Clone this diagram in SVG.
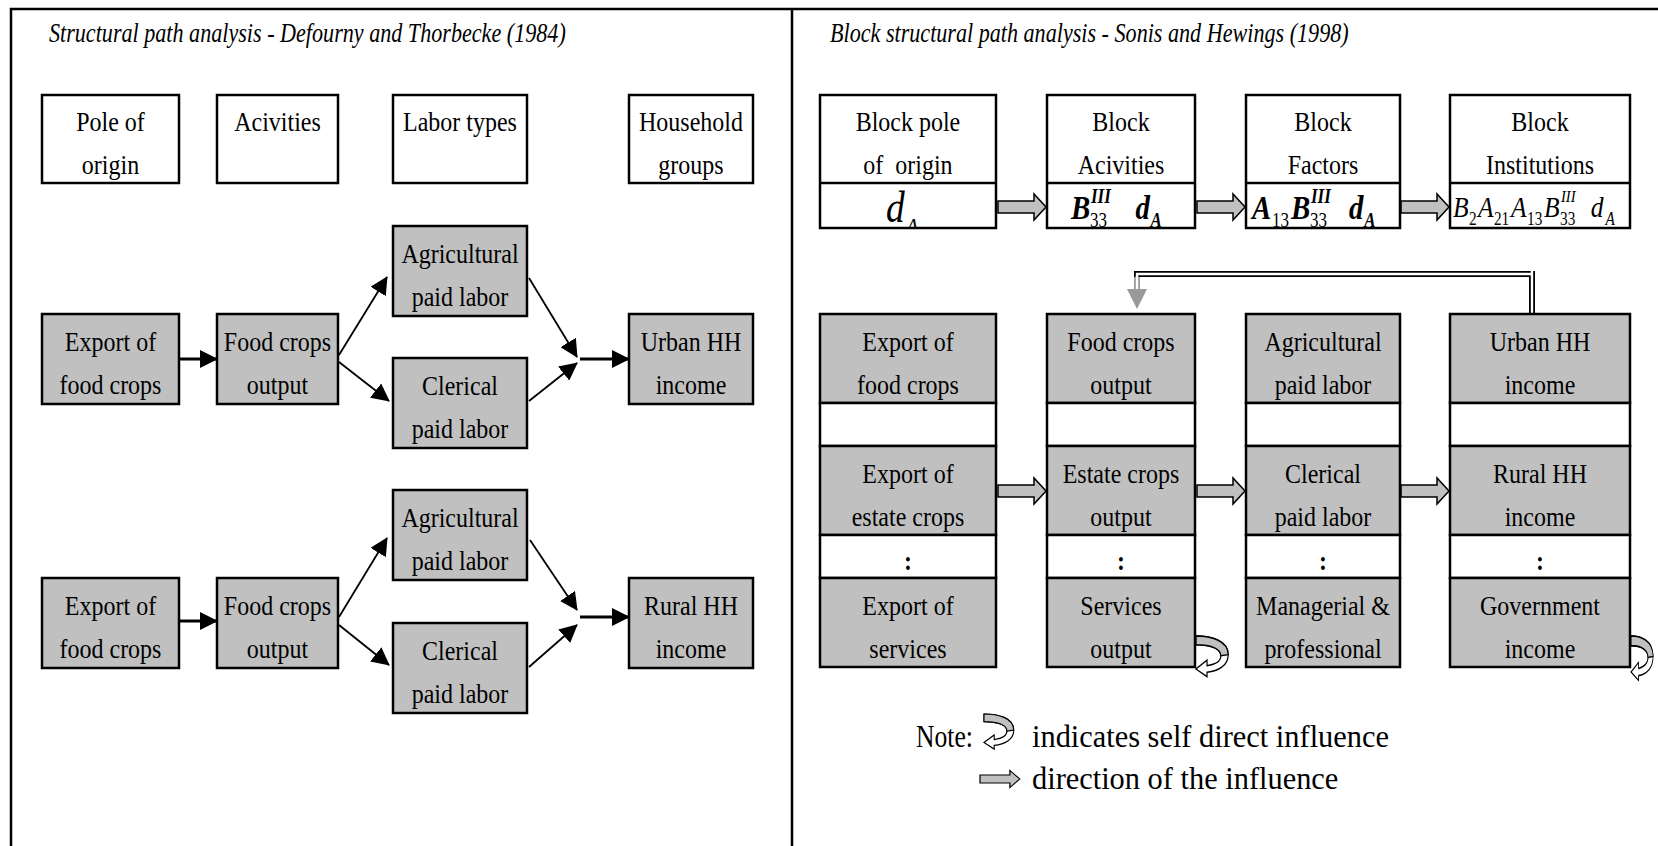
<svg xmlns="http://www.w3.org/2000/svg" width="1658" height="846" viewBox="0 0 1658 846">
<style>
.bg{fill:#fff}
.frame{stroke:#000;stroke-width:2.5;fill:none}
.box{fill:#c0c0c0;stroke:#000;stroke-width:2.5}
.wbox{fill:#fff;stroke:#000;stroke-width:2.5}
.sep{stroke:#000;stroke-width:2.5}
.t{font-family:"Liberation Serif","Times New Roman",serif;font-size:28px;text-anchor:middle;fill:#000}
.title{font-family:"Liberation Serif","Times New Roman",serif;font-size:27px;font-style:italic;fill:#000}
.note{font-family:"Liberation Serif","Times New Roman",serif;font-size:32px;fill:#000}
.colon{font-family:"Liberation Serif","Times New Roman",serif;font-size:28px;font-weight:bold;text-anchor:middle}
.m{font-family:"Liberation Serif","Times New Roman",serif;font-style:italic;fill:#000}
.bd{font-weight:bold}
.up{font-style:normal;font-weight:normal}
.conn{stroke:#000;stroke-width:1.8;fill:none;marker-end:url(#ah)}
.conn2{stroke:#000;stroke-width:3;fill:none;marker-end:url(#ah)}
.barrow{fill:#c0c0c0;stroke:#000;stroke-width:1.5}
.lg{fill:#c0c0c0;stroke:#000;stroke-width:1.3}
.lw{fill:#fff;stroke:#000;stroke-width:1.3}
</style>
<defs>
<marker id="ah" viewBox="0 0 18 18" refX="17" refY="9" markerWidth="18" markerHeight="18" markerUnits="userSpaceOnUse" orient="auto">
<path d="M0,0 L18,9 L0,18 Z" fill="#000"/>
</marker>
<path id="barrow" d="M0,-6 L36,-6 L36,-13 L48,0 L36,13 L36,6 L0,6 Z"/>
<g id="loop">
<path class="lw" d="M0,0 C16,0 35,4 35,17 C35,27 24,32 12,33 L12,37 L0,30 L12,22 L12,27 C20,26 27,23 27,18 C27,12 18,8 0,8 Z"/>
<path class="lg" d="M0,0 C16,0 35,4 35,17 L27,18 C27,12 18,8 0,8 Z"/>
</g>
<clipPath id="c1"><rect x="820" y="183" width="176" height="45"/></clipPath>
</defs>
<rect class="bg" x="0" y="0" width="1658" height="846"/>
<g id="frame">
<path class="frame" d="M11,846 L11,9 L1658,9 M792,9 L792,846"/>
</g>
<text class="title" x="49" y="42" transform="matrix(0.82 0 0 1 8.82 0)">Structural path analysis - Defourny and Thorbecke (1984)</text>
<text class="title" x="830" y="42" transform="matrix(0.82 0 0 1 149.4 0)">Block structural path analysis - Sonis and Hewings (1998)</text>

<!-- LEFT PANEL headers -->
<g id="h-pole"><rect class="wbox" x="42" y="95" width="137" height="88"/><g transform="matrix(0.857 0 0 1 15.8 0)"><text class="t" x="110.5" y="131">Pole of</text><text class="t" x="110.5" y="174">origin</text></g></g>
<g id="h-act"><rect class="wbox" x="217" y="95" width="121" height="88"/><g transform="matrix(0.857 0 0 1 39.68 0)"><text class="t" x="277.5" y="131">Acivities</text></g></g>
<g id="h-labor"><rect class="wbox" x="393" y="95" width="134" height="88"/><g transform="matrix(0.857 0 0 1 65.78 0)"><text class="t" x="460" y="131">Labor types</text></g></g>
<g id="h-hh"><rect class="wbox" x="629" y="95" width="124" height="88"/><g transform="matrix(0.857 0 0 1 98.81 0)"><text class="t" x="691" y="131">Household</text><text class="t" x="691" y="174">groups</text></g></g>

<!-- group 1 -->
<g id="l1-export"><rect class="box" x="42" y="314" width="137" height="90"/><g transform="matrix(0.857 0 0 1 15.8 0)"><text class="t" x="110.5" y="351">Export of</text><text class="t" x="110.5" y="394">food crops</text></g></g>
<g id="l1-food"><rect class="box" x="217" y="314" width="121" height="90"/><g transform="matrix(0.857 0 0 1 39.68 0)"><text class="t" x="277.5" y="351">Food crops</text><text class="t" x="277.5" y="394">output</text></g></g>
<g id="l1-agri"><rect class="box" x="393" y="226" width="134" height="90"/><g transform="matrix(0.857 0 0 1 65.78 0)"><text class="t" x="460" y="263">Agricultural</text><text class="t" x="460" y="306">paid labor</text></g></g>
<g id="l1-cler"><rect class="box" x="393" y="358" width="134" height="90"/><g transform="matrix(0.857 0 0 1 65.78 0)"><text class="t" x="460" y="395">Clerical</text><text class="t" x="460" y="438">paid labor</text></g></g>
<g id="l1-urban"><rect class="box" x="629" y="314" width="124" height="90"/><g transform="matrix(0.857 0 0 1 98.81 0)"><text class="t" x="691" y="351">Urban HH</text><text class="t" x="691" y="394">income</text></g></g>

<!-- group 2 -->
<g id="l2-export"><rect class="box" x="42" y="578" width="137" height="90"/><g transform="matrix(0.857 0 0 1 15.8 0)"><text class="t" x="110.5" y="615">Export of</text><text class="t" x="110.5" y="658">food crops</text></g></g>
<g id="l2-food"><rect class="box" x="217" y="578" width="121" height="90"/><g transform="matrix(0.857 0 0 1 39.68 0)"><text class="t" x="277.5" y="615">Food crops</text><text class="t" x="277.5" y="658">output</text></g></g>
<g id="l2-agri"><rect class="box" x="393" y="490" width="134" height="90"/><g transform="matrix(0.857 0 0 1 65.78 0)"><text class="t" x="460" y="527">Agricultural</text><text class="t" x="460" y="570">paid labor</text></g></g>
<g id="l2-cler"><rect class="box" x="393" y="623" width="134" height="90"/><g transform="matrix(0.857 0 0 1 65.78 0)"><text class="t" x="460" y="660">Clerical</text><text class="t" x="460" y="703">paid labor</text></g></g>
<g id="l2-rural"><rect class="box" x="629" y="578" width="124" height="90"/><g transform="matrix(0.857 0 0 1 98.81 0)"><text class="t" x="691" y="615">Rural HH</text><text class="t" x="691" y="658">income</text></g></g>

<g id="connectors">
<path class="conn2" d="M180,359 L217,359"/>
<path class="conn" d="M339,355 L387,277"/>
<path class="conn" d="M339,362 L389,401"/>
<path class="conn" d="M529,278 L577,357"/>
<path class="conn" d="M529,401 L577,363"/>
<path class="conn2" d="M580,359 L629,359"/>
<path class="conn2" d="M180,621 L217,621"/>
<path class="conn" d="M339,617 L387,538"/>
<path class="conn" d="M339,625 L389,665"/>
<path class="conn" d="M530,540 L577,610"/>
<path class="conn" d="M529,667 L577,625"/>
<path class="conn2" d="M580,617 L629,617"/>
<!-- right panel feedback double line -->
<path d="M1532,313 L1532,271 M1532,274 L1137,274 L1137,278" stroke="#000" stroke-width="6" fill="none"/>
<path d="M1532,313 L1532,271 M1532,274 L1137,274 L1137,278" stroke="#fff" stroke-width="2.4" fill="none"/>
<path d="M1137,277 L1137,290" stroke="#999" stroke-width="6" fill="none"/>
<path d="M1137,276 L1137,291" stroke="#fff" stroke-width="2.4" fill="none"/>
<path d="M1127,289 L1147,289 L1137,309 Z" fill="#999"/>
<!-- block arrows -->
<use href="#barrow" class="barrow" transform="translate(998,207)"/>
<use href="#barrow" class="barrow" transform="translate(1197,207)"/>
<use href="#barrow" class="barrow" transform="translate(1401,207)"/>
<use href="#barrow" class="barrow" transform="translate(998,491)"/>
<use href="#barrow" class="barrow" transform="translate(1197,491)"/>
<use href="#barrow" class="barrow" transform="translate(1401,491)"/>
<!-- self loops -->
<use href="#loop" transform="translate(1196,636) scale(0.92,1.1)"/>
<use href="#loop" transform="translate(1631,636) scale(0.63,1.2)"/>
</g>

<!-- RIGHT PANEL top blocks -->
<g id="b-pole"><rect class="wbox" x="820" y="95" width="176" height="133"/><line class="sep" x1="820" y1="183" x2="996" y2="183"/><g transform="matrix(0.857 0 0 1 129.84 0)"><text class="t" x="908" y="131">Block pole</text><text class="t" x="908" y="174" style="white-space:pre">of  origin</text></g>
<g clip-path="url(#c1)"><g transform="translate(886,0) scale(0.85,1)"><text class="m" font-size="44"><tspan x="0" y="222">d</tspan><tspan x="23.5" y="234" font-size="24">A</tspan></text></g></g></g>
<g id="b-act"><rect class="wbox" x="1047" y="95" width="148" height="133"/><line class="sep" x1="1047" y1="183" x2="1195" y2="183"/><g transform="matrix(0.857 0 0 1 160.3 0)"><text class="t" x="1121" y="131">Block</text><text class="t" x="1121" y="174">Acivities</text></g>
<g transform="translate(1071,0) scale(0.85,1)"><text class="m bd" font-size="34"><tspan x="0" y="219">B</tspan><tspan x="23.5" y="203" font-size="20">III</tspan><tspan x="22.4" y="227" font-size="20" class="up">33</tspan><tspan x="76" y="219">d</tspan><tspan x="93.5" y="227" font-size="20">A</tspan></text></g></g>
<g id="b-fac"><rect class="wbox" x="1246" y="95" width="154" height="133"/><line class="sep" x1="1246" y1="183" x2="1400" y2="183"/><g transform="matrix(0.857 0 0 1 189.19 0)"><text class="t" x="1323" y="131">Block</text><text class="t" x="1323" y="174">Factors</text></g>
<g transform="translate(1252,0) scale(0.85,1)"><text class="m bd" font-size="34"><tspan x="0" y="219">A</tspan><tspan x="23.5" y="227" font-size="20" class="up">13</tspan><tspan x="45.9" y="219">B</tspan><tspan x="69.4" y="203" font-size="20">III</tspan><tspan x="68.2" y="227" font-size="20" class="up">33</tspan><tspan x="114" y="219">d</tspan><tspan x="132" y="227" font-size="20">A</tspan></text></g></g>
<g id="b-inst"><rect class="wbox" x="1450" y="95" width="180" height="133"/><line class="sep" x1="1450" y1="183" x2="1630" y2="183"/><g transform="matrix(0.857 0 0 1 220.22 0)"><text class="t" x="1540" y="131">Block</text><text class="t" x="1540" y="174">Institutions</text></g>
<g transform="translate(1453,0) scale(0.85,1)"><text class="m" font-size="30"><tspan x="0" y="217">B</tspan><tspan x="18.8" y="225" font-size="18" class="up">2</tspan><tspan x="29.4" y="217">A</tspan><tspan x="48.2" y="225" font-size="18" class="up">21</tspan><tspan x="68.2" y="217">A</tspan><tspan x="87.1" y="225" font-size="18" class="up">13</tspan><tspan x="107" y="217">B</tspan><tspan x="127.1" y="202" font-size="17">III</tspan><tspan x="125.9" y="225" font-size="18" class="up">33</tspan><tspan x="162" y="217">d</tspan><tspan x="179.5" y="225" font-size="18">A</tspan></text></g></g>

<!-- RIGHT PANEL columns -->
<g id="col-exports">
<rect class="box" x="820" y="314" width="176" height="89"/><rect class="wbox" x="820" y="403" width="176" height="43"/><rect class="box" x="820" y="446" width="176" height="89"/><rect class="wbox" x="820" y="535" width="176" height="43"/><rect class="box" x="820" y="578" width="176" height="89"/>
<g transform="matrix(0.857 0 0 1 129.84 0)">
<text class="t" x="908" y="351">Export of</text><text class="t" x="908" y="394">food crops</text>
<text class="t" x="908" y="483">Export of</text><text class="t" x="908" y="526">estate crops</text>
<text class="colon" x="908" y="570">:</text>
<text class="t" x="908" y="615">Export of</text><text class="t" x="908" y="658">services</text>
</g></g>
<g id="col-activities">
<rect class="box" x="1047" y="314" width="148" height="89"/><rect class="wbox" x="1047" y="403" width="148" height="43"/><rect class="box" x="1047" y="446" width="148" height="89"/><rect class="wbox" x="1047" y="535" width="148" height="43"/><rect class="box" x="1047" y="578" width="148" height="89"/>
<g transform="matrix(0.857 0 0 1 160.3 0)">
<text class="t" x="1121" y="351">Food crops</text><text class="t" x="1121" y="394">output</text>
<text class="t" x="1121" y="483">Estate crops</text><text class="t" x="1121" y="526">output</text>
<text class="colon" x="1121" y="570">:</text>
<text class="t" x="1121" y="615">Services</text><text class="t" x="1121" y="658">output</text>
</g></g>
<g id="col-factors">
<rect class="box" x="1246" y="314" width="154" height="89"/><rect class="wbox" x="1246" y="403" width="154" height="43"/><rect class="box" x="1246" y="446" width="154" height="89"/><rect class="wbox" x="1246" y="535" width="154" height="43"/><rect class="box" x="1246" y="578" width="154" height="89"/>
<g transform="matrix(0.857 0 0 1 189.19 0)">
<text class="t" x="1323" y="351">Agricultural</text><text class="t" x="1323" y="394">paid labor</text>
<text class="t" x="1323" y="483">Clerical</text><text class="t" x="1323" y="526">paid labor</text>
<text class="colon" x="1323" y="570">:</text>
<text class="t" x="1323" y="615">Managerial &amp;</text><text class="t" x="1323" y="658">professional</text>
</g></g>
<g id="col-institutions">
<rect class="box" x="1450" y="314" width="180" height="89"/><rect class="wbox" x="1450" y="403" width="180" height="43"/><rect class="box" x="1450" y="446" width="180" height="89"/><rect class="wbox" x="1450" y="535" width="180" height="43"/><rect class="box" x="1450" y="578" width="180" height="89"/>
<g transform="matrix(0.857 0 0 1 220.22 0)">
<text class="t" x="1540" y="351">Urban HH</text><text class="t" x="1540" y="394">income</text>
<text class="t" x="1540" y="483">Rural HH</text><text class="t" x="1540" y="526">income</text>
<text class="colon" x="1540" y="570">:</text>
<text class="t" x="1540" y="615">Government</text><text class="t" x="1540" y="658">income</text>
</g></g>

<g id="note">
<text class="note" x="916" y="747" font-size="30" transform="matrix(0.8 0 0 1 183.2 0)">Note:</text>
<use href="#loop" transform="translate(984,714) scale(0.85,0.95)"/>
<text class="note" x="1032" y="747" transform="matrix(0.95 0 0 1 51.6 0)">indicates self direct influence</text>
<use href="#barrow" class="barrow" transform="translate(980,779) scale(0.83,0.66)"/>
<text class="note" x="1032" y="789" transform="matrix(0.95 0 0 1 51.6 0)">direction of the influence</text>
</g>
</svg>
